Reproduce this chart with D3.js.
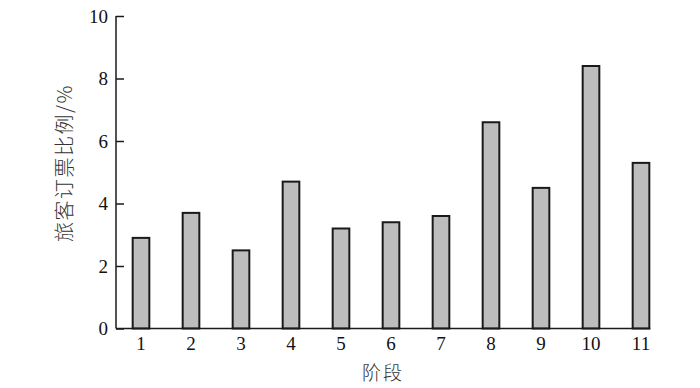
<!DOCTYPE html>
<html>
<head>
<meta charset="utf-8">
<script src="https://cdn.jsdelivr.net/npm/d3@7"></script>
<style>
  body { margin: 0; background: #fff; overflow: hidden; }
  svg { display: block; }
</style>
</head>
<body>
<div id="chart"></div>
<script>
const stages = ['1', '2', '3', '4', '5', '6', '7', '8', '9', '10', '11'];
const ratios = [2.9, 3.7, 2.5, 4.7, 3.2, 3.4, 3.6, 6.6, 4.5, 8.4, 5.3];
const yTicks = [0, 2, 4, 6, 8, 10];
const xTitle = '阶段';
const yTitle = '旅客订票比例/%';

const width = 700, height = 388;
const margin = { top: 16, right: 34, bottom: 60, left: 116 };
const innerHeight = 328.5 - margin.top;

const svg = d3.select('#chart').append('svg')
  .attr('width', width).attr('height', height);

const g = svg.append('g')
  .attr('transform', `translate(${margin.left}, ${margin.top})`);

// band scale: step 50, bars ~1/3 of step
const xScale = d3.scaleBand()
  .domain(stages)
  .range([0, 550])
  .paddingInner(0.667)
  .paddingOuter(0.3335);

const yScale = d3.scaleLinear()
  .domain([0, 10])
  .range([innerHeight, 0]);

// bars
g.selectAll('rect.bar')
  .data(ratios)
  .join('rect')
  .attr('class', 'bar')
  .attr('x', (d, i) => xScale(stages[i]))
  .attr('y', d => yScale(d))
  .attr('width', xScale.bandwidth())
  .attr('height', d => innerHeight - yScale(d))
  .attr('fill', '#bdbdbd')
  .attr('stroke', '#1a1a1a')
  .attr('stroke-width', 2);

// y axis, ticks pointing inward
const yAxis = d3.axisRight(yScale)
  .tickValues(yTicks)
  .tickSize(8)
  .tickFormat(d3.format('d'));

const yG = g.append('g').call(yAxis);
yG.select('.domain').attr('stroke', '#1a1a1a').attr('stroke-width', 1.5)
  .attr('d', `M0,${innerHeight}V0`);
yG.selectAll('.tick line').attr('stroke', '#1a1a1a').attr('stroke-width', 1.5);
yG.selectAll('.tick text')
  .attr('x', -8)
  .attr('text-anchor', 'end')
  .attr('fill', '#111')
  .style('font-family', '"Liberation Serif", serif')
  .style('font-size', '19px');

// x axis, no tick marks, line ends at the last bar
const xAxis = d3.axisBottom(xScale)
  .tickSize(0)
  .tickPadding(8);

const xG = g.append('g')
  .attr('transform', `translate(0, ${innerHeight})`)
  .call(xAxis);
xG.select('.domain')
  .attr('stroke', '#1a1a1a').attr('stroke-width', 1.5)
  .attr('d', `M0,0H${xScale('11') + xScale.bandwidth() + 1}`);
xG.selectAll('.tick text')
  .attr('fill', '#111')
  .style('font-family', '"Liberation Serif", serif')
  .style('font-size', '19px');

// titles
g.append('text')
  .text(xTitle)
  .attr('x', 383 - margin.left)
  .attr('y', 380 - margin.top)
  .attr('text-anchor', 'middle')
  .attr('fill', '#333')
  .style('font-family', '"Noto Sans CJK SC", sans-serif')
  .style('font-weight', 300)
  .style('letter-spacing', '2px')
  .style('font-size', '19px');

svg.append('text')
  .text(yTitle)
  .attr('transform', 'translate(72, 163) rotate(-90)')
  .attr('text-anchor', 'middle')
  .attr('fill', '#333')
  .style('font-family', '"Noto Sans CJK SC", sans-serif')
  .style('font-weight', 300)
  .style('letter-spacing', '1.5px')
  .style('font-size', '20px');
</script>
</body>
</html>
